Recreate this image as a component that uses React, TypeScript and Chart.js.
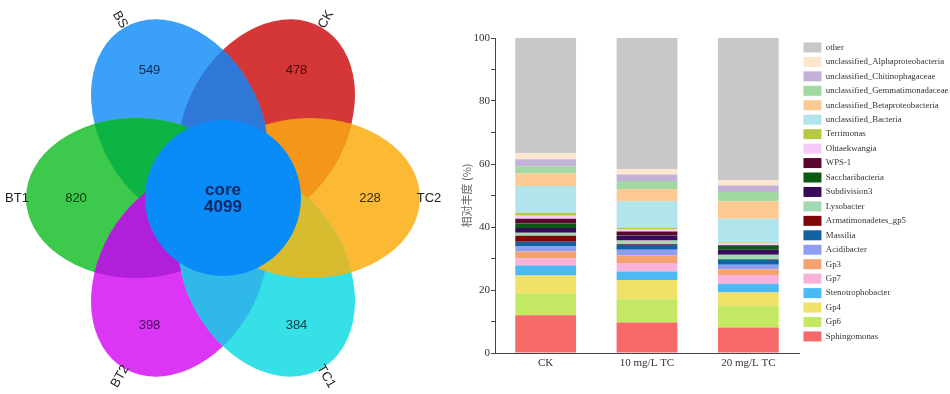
import React, { useEffect, useRef } from "react";
import { Chart, registerables } from "chart.js";

Chart.register(...registerables);

// ---------------- Venn (flower) data ----------------
const petalNames = ["TC2", "CK", "BS", "BT1", "BT2", "TC1"];
const petalCounts = [228, 478, 549, 820, 398, 384];
const petalAngles = [0, 60, 120, 180, 240, 300];
const petalColors = ["#fbb934", "#d53638", "#3aa0f8", "#3cc94c", "#dc36f5", "#35e0e6"];
const petalTextColors = ["#3a2a05", "#4a0808", "#0a2a5a", "#0a3a0a", "#4a0860", "#08404a"];
// overlap colour of petal i with petal i+1 (cyclic)
const overlapColors = ["#f5981a", "#2f78d8", "#0db443", "#b020d8", "#30b8e8", "#d8bc30"];
const coreLabel = "core";
const coreCount = 4099;
const coreColor = "#0a8cf8";

// ---------------- Stacked bar data ----------------
const groups = ["CK", "10 mg/L TC", "20 mg/L TC"];
const taxa = [
  "Sphingomonas", "Gp6", "Gp4", "Stenotrophobacter", "Gp7", "Gp3", "Acidibacter", "Massilia",
  "Armatimonadetes_gp5", "Lysobacter", "Subdivision3", "Saccharibacteria", "WPS-1", "Ohtaekwangia",
  "Terrimonas", "unclassified_Bacteria", "unclassified_Betaproteobacteria",
  "unclassified_Gemmatimonadaceae", "unclassified_Chitinophagaceae",
  "unclassified_Alphaproteobacteria", "other",
];
const Sphingomonas = [12.0, 9.7, 8.1];
const Gp6 = [6.9, 7.4, 6.9];
const Gp4 = [5.7, 6.1, 4.2];
const Stenotrophobacter = [3.2, 2.7, 2.8];
const Gp7 = [2.3, 2.7, 2.8];
const Gp3 = [2.1, 2.4, 1.8];
const Acidibacter = [1.6, 1.8, 1.4];
const Massilia = [1.5, 1.6, 1.6];
const Armatimonadetes_gp5 = [1.9, 0.2, 0.2];
const Lysobacter = [1.0, 1.1, 1.4];
const Subdivision3 = [1.5, 1.5, 1.6];
const Saccharibacteria = [1.4, 0.2, 1.3];
const WPS1 = [1.5, 1.2, 0.2];
const Ohtaekwangia = [1.0, 0.6, 0.6];
const Terrimonas = [0.9, 0.5, 0.2];
const uBacteria = [8.5, 8.5, 7.5];
const uBetaproteobacteria = [4.0, 3.9, 5.6];
const uGemmatimonadaceae = [2.3, 2.5, 2.9];
const uChitinophagaceae = [2.2, 2.1, 2.1];
const uAlphaproteobacteria = [1.9, 1.6, 1.7];
const other = [36.6, 41.7, 45.1];
const taxaValues = [
  Sphingomonas, Gp6, Gp4, Stenotrophobacter, Gp7, Gp3, Acidibacter, Massilia,
  Armatimonadetes_gp5, Lysobacter, Subdivision3, Saccharibacteria, WPS1, Ohtaekwangia,
  Terrimonas, uBacteria, uBetaproteobacteria, uGemmatimonadaceae, uChitinophagaceae,
  uAlphaproteobacteria, other,
];
const taxaColors = [
  "#f86a6a", "#c2e864", "#f0e266", "#4cbaf2", "#f8b2da", "#f4a272", "#8e9ef2", "#1262a2",
  "#7e0606", "#a2d8b2", "#3a0a5a", "#0a5a14", "#5c0632", "#f8caf8",
  "#b8c842", "#b2e4ec", "#fdca94", "#a2d8a2", "#c2b2d8",
  "#fde6ce", "#c8c8c8",
];
const yTicksLabelled = [0, 20, 40, 60, 80, 100];

// layout of the flower (in venn units, 1 unit = 1 px)
const PETAL_DIST = 87;
const PETAL_A = 110;
const PETAL_B = 80;
const CORE_R = 78;
const NUM_DIST = 147;
const NAME_DIST = 206;

const vennPlugin = {
  id: "flowerVenn",
  afterDatasetsDraw(chart: any) {
    const { ctx } = chart;
    const xs = chart.scales.x;
    const ys = chart.scales.y;
    const px = (v: number) => xs.getPixelForValue(v);
    const py = (v: number) => ys.getPixelForValue(v);
    const sx = Math.abs(px(1) - px(0));
    const sy = Math.abs(py(1) - py(0));
    const petal = (i: number) => {
      const th = (petalAngles[i] * Math.PI) / 180;
      return {
        cx: px(PETAL_DIST * Math.cos(th)),
        cy: py(PETAL_DIST * Math.sin(th)),
        rx: PETAL_A * sx,
        ry: PETAL_B * sy,
        rot: -th,
      };
    };
    const path = (i: number) => {
      const p = petal(i);
      ctx.beginPath();
      ctx.ellipse(p.cx, p.cy, p.rx, p.ry, p.rot, 0, Math.PI * 2);
    };
    ctx.save();
    const n = petalNames.length;
    for (let i = 0; i < n; i++) {
      path(i);
      ctx.fillStyle = petalColors[i];
      ctx.fill();
    }
    for (let i = 0; i < n; i++) {
      const j = (i + 1) % n;
      ctx.save();
      path(i);
      ctx.clip();
      path(j);
      ctx.fillStyle = overlapColors[i];
      ctx.fill();
      ctx.restore();
    }
    // core
    ctx.beginPath();
    ctx.ellipse(px(0), py(0), CORE_R * sx, CORE_R * sy, 0, 0, Math.PI * 2);
    ctx.fillStyle = coreColor;
    ctx.fill();

    ctx.textAlign = "center";
    ctx.textBaseline = "middle";
    for (let i = 0; i < n; i++) {
      const th = (petalAngles[i] * Math.PI) / 180;
      ctx.font = "13px 'Liberation Sans', Arial, sans-serif";
      ctx.fillStyle = petalTextColors[i];
      ctx.fillText(String(petalCounts[i]), px(NUM_DIST * Math.cos(th)), py(NUM_DIST * Math.sin(th)));
      // names, rotated along the radial line, kept upright
      let rotDeg = -petalAngles[i];
      while (rotDeg > 90) rotDeg -= 180;
      while (rotDeg <= -90) rotDeg += 180;
      ctx.save();
      ctx.translate(px(NAME_DIST * Math.cos(th)), py(NAME_DIST * Math.sin(th)));
      ctx.rotate((rotDeg * Math.PI) / 180);
      ctx.fillStyle = "#222";
      ctx.font = "13px 'Liberation Sans', Arial, sans-serif";
      ctx.fillText(petalNames[i], 0, 0);
      ctx.restore();
    }
    ctx.font = "bold 17px 'Liberation Sans', Arial, sans-serif";
    ctx.fillStyle = "#0a2a66";
    ctx.fillText(coreLabel, px(0), py(8));
    ctx.fillText(String(coreCount), px(0), py(-9));
    ctx.restore();
  },
};

export default function App() {
  const vennRef = useRef<HTMLCanvasElement>(null);
  const barRef = useRef<HTMLCanvasElement>(null);

  useEffect(() => {
    const venn = new Chart(vennRef.current as HTMLCanvasElement, {
      type: "scatter",
      data: { datasets: [{ data: [], pointRadius: 0 }] },
      options: {
        responsive: false,
        animation: false,
        layout: { padding: 0 },
        plugins: { legend: { display: false }, tooltip: { enabled: false } },
        scales: {
          x: { type: "linear", min: -223, max: 247, display: false },
          y: { type: "linear", min: -196, max: 198, display: false },
        },
      },
      plugins: [vennPlugin],
    } as any);

    const bar = new Chart(barRef.current as HTMLCanvasElement, {
      type: "bar",
      data: {
        labels: groups,
        datasets: taxa.map((t, i) => ({
          label: t,
          data: taxaValues[i],
          backgroundColor: taxaColors[i],
          borderWidth: 0,
          barPercentage: 0.6,
          categoryPercentage: 1.0,
        })),
      },
      options: {
        responsive: false,
        animation: false,
        layout: { padding: { top: 38, right: 0, bottom: 0, left: 0 } },
        plugins: {
          tooltip: { enabled: false },
          legend: {
            position: "right",
            align: "start",
            reverse: true,
            maxWidth: 151,
            labels: {
              boxWidth: 18,
              boxHeight: 10,
              padding: 4.45,
              color: "#333",
              font: { family: "'Liberation Serif', 'Times New Roman', serif", size: 8.8 },
            },
          },
        },
        scales: {
          x: {
            stacked: true,
            grid: { display: false, drawTicks: false, tickLength: 0 },
            border: { display: true, color: "#444", width: 1 },
            ticks: {
              color: "#333",
              padding: 4,
              font: { family: "'Liberation Serif', 'Times New Roman', serif", size: 11 },
            },
            afterFit: (s: any) => {
              s.height = 41;
            },
          },
          y: {
            stacked: true,
            min: 0,
            max: 100,
            ticks: {
              stepSize: 10,
              padding: 1,
              color: "#333",
              font: { family: "'Liberation Serif', 'Times New Roman', serif", size: 11 },
              callback: (v: any) => (yTicksLabelled.includes(Number(v)) ? String(v) : ""),
            },
            grid: { display: true, drawOnChartArea: false, drawTicks: true, tickLength: 4, color: "#444" },
            border: { display: true, color: "#444", width: 1 },
            title: {
              display: true,
              text: "相对丰度 (%)",
              color: "#666",
              padding: { top: 5, bottom: 0 },
              font: { family: "'Noto Sans CJK SC', sans-serif", size: 11 },
            },
            afterFit: (s: any) => {
              s.width = 40;
            },
          },
        },
      },
    } as any);

    return () => {
      venn.destroy();
      bar.destroy();
    };
  }, []);

  return (
    <div style={{ position: "absolute", left: 0, top: 0, width: 950, height: 394, background: "#fff" }}>
      <canvas ref={vennRef} width={470} height={394} style={{ position: "absolute", left: 0, top: 0 }} />
      <canvas ref={barRef} width={495} height={394} style={{ position: "absolute", left: 455, top: 0 }} />
    </div>
  );
}
